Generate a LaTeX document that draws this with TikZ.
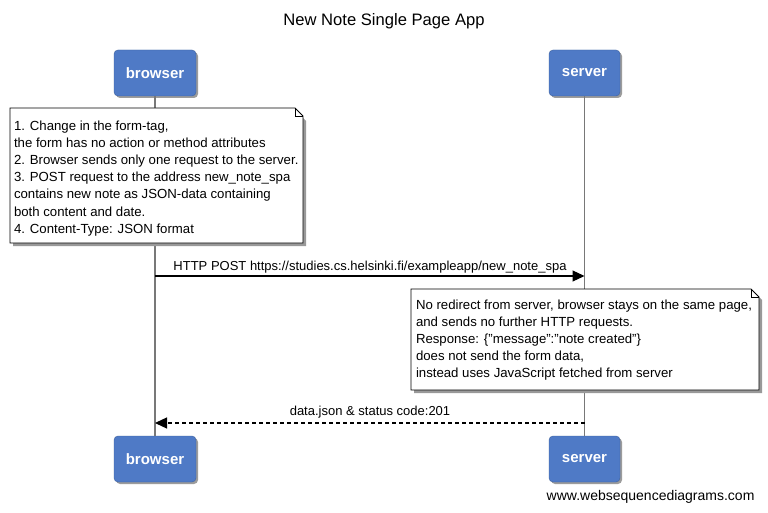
\documentclass[tikz,border=0pt]{standalone}
\usepackage{fontspec}
\setmainfont{Liberation Sans}
\usetikzlibrary{arrows.meta,shadows}
\definecolor{actorblue}{RGB}{79,122,198}
\definecolor{lifegray}{RGB}{120,120,120}
\tikzset{
  actor/.style={draw=actorblue!80!black, fill=actorblue, rounded corners=4pt,
    minimum height=46pt, inner sep=0pt, text=white,
    font=\fontsize{15}{18}\selectfont\bfseries,
    drop shadow={shadow xshift=2pt, shadow yshift=-2pt, fill=black!55, opacity=0.7}},
  notetext/.style={anchor=north west, align=left, inner sep=0pt, outer sep=0pt,
    font=\fontsize{13.2}{17.1}\selectfont},
  lifeline/.style={draw=lifegray, line width=1.8pt},
  msg/.style={line width=1.2pt, -{Triangle[length=12pt,width=11pt]}},
  msglabel/.style={font=\fontsize{13}{15}\selectfont, inner sep=0pt},
}
\begin{document}
\begin{tikzpicture}[x=1pt,y=-1pt]
\useasboundingbox[fill=white] (0,0) rectangle (768,513);
\node[font=\fontsize{16.6}{19}\selectfont] (title) at (384,21) {New Note Single Page App};

\node[actor, minimum width=82pt] (browser) at (155,73) {browser};
\node[actor, minimum width=71pt] (server) at (584.5,73) {server};
\node[actor, minimum width=82pt] (browserb) at (155,459) {browser};
\node[actor, minimum width=71pt] (serverb) at (584.5,459) {server};

\draw[lifeline] (browser.south) -- (browserb.north);
\draw[lifeline] (server.south) -- (serverb.north);

% note 1
\fill[black!40] (13,111) -- (296,111) -- (306,121) -- (306,246) -- (13,246) -- cycle;
\draw[fill=white, line width=0.8pt] (10,108) -- (295,108) -- (303,116) -- (303,243) -- (10,243) -- cycle;
\draw[line width=0.6pt] (295,108) -- (295,116) -- (303,116);
\node[notetext] (note1) at (14,121) {1. Change in the form-tag,\\
the form has no action or method attributes\\
2. Browser sends only one request to the server.\\
3. POST request to the address new\_note\_spa\\
contains new note as JSON-data containing\\
both content and date.\\
4. Content-Type: JSON format};

% message 1
\draw[msg] (browser.south |- 0,276) -- (server.south |- 0,276);
\node[msglabel] (m1label) at (370,267) {HTTP POST https://studies.cs.helsinki.fi/exampleapp/new\_note\_spa};

% note 2
\fill[black!40] (414,292) -- (754,292) -- (762,300) -- (762,393) -- (414,393) -- cycle;
\draw[fill=white, line width=0.8pt] (411,289) -- (751,289) -- (759,297) -- (759,390) -- (411,390) -- cycle;
\draw[line width=0.6pt] (751,289) -- (751,297) -- (759,297);
\node[notetext] (note2) at (416,300) {No redirect from server, browser stays on the same page,\\
and sends no further HTTP requests.\\
Response: \{"message":"note created"\}\\
does not send the form data,\\
instead uses JavaScript fetched from server};

% message 2
\draw[msg, dashed, dash pattern=on 4pt off 3pt] (server.south |- 0,423) -- (browser.south |- 0,423);
\node[msglabel] (m2label) at (370,412) {data.json \& status code:201};

\node[font=\fontsize{14}{16}\selectfont, anchor=east] (footer) at (758,497) {www.websequencediagrams.com};
\end{tikzpicture}
\end{document}
